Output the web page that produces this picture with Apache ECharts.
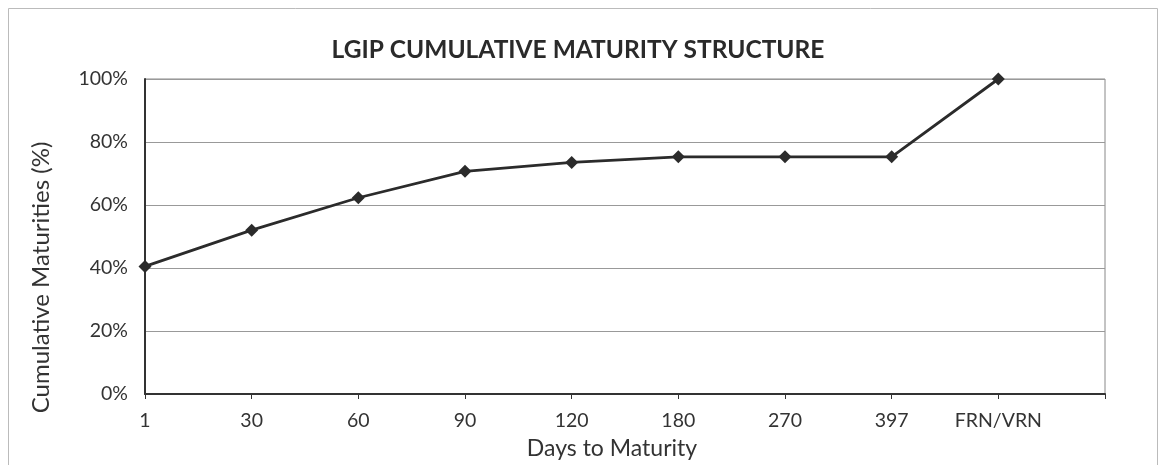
<!DOCTYPE html>
<html><head><meta charset="utf-8">
<script src="https://cdn.jsdelivr.net/npm/echarts@6/dist/echarts.min.js"></script>
<style>html,body{margin:0;padding:0;background:#fff}#c{width:1165px;height:465px}</style>
</head><body><div id="c"></div>
<script>
const categories = ['1','30','60','90','120','180','270','397','FRN/VRN',''];
const cumulative = [40.5, 52.0, 62.3, 70.7, 73.5, 75.3, 75.3, 75.3, 100, null];
const yTicks = [0, 20, 40, 60, 80, 100];

const chart = echarts.init(document.getElementById('c'), null, {renderer:'canvas'});
const font = 'Lato, "Open Sans", sans-serif';
chart.setOption({
  animation:false,
  backgroundColor:'#fff',
  graphic:[{type:'rect', shape:{x:8.5,y:8.5,width:1149,height:470}, style:{fill:'none', stroke:'#bbb', lineWidth:1}, silent:true}],
  title:{text:'LGIP CUMULATIVE MATURITY STRUCTURE', left:573, textAlign:'center', top:33,
    textStyle:{fontFamily:font, fontWeight:'bold', fontSize:24.5, color:'#2a2a2a'}},
  grid:{left:145, right:60, top:79, bottom:71, show:true, borderColor:'#888', borderWidth:1},
  xAxis:{type:'category', data:categories, boundaryGap:false,
    name:'Days to Maturity', nameLocation:'middle', nameGap:43,
    nameTextStyle:{fontFamily:font, fontSize:23, color:'#333', padding:[0,26,0,0]},
    axisLine:{lineStyle:{color:'#333', width:2}},
    axisTick:{show:true, alignWithLabel:true, length:5, inside:false, lineStyle:{color:'#333', width:1}},
    axisLabel:{fontFamily:font, fontSize:19.5, color:'#333', margin:17, interval:0},
    splitLine:{show:false}},
  yAxis:{type:'value', min:0, max:100, interval:20,
    name:'Cumulative Maturities (%)', nameLocation:'middle', nameGap:92,
    nameTextStyle:{fontFamily:font, fontSize:24, color:'#333', padding:[0,82,0,0]},
    axisLine:{show:true, lineStyle:{color:'#333', width:2}},
    axisTick:{show:false},
    axisLabel:{fontFamily:font, fontSize:19.5, color:'#333', margin:17,
      formatter:v=> yTicks.includes(v) ? v+'%' : ''},
    splitLine:{lineStyle:{color:'#999', width:1}}},
  series:[{type:'line', data:cumulative, symbol:'diamond', symbolSize:13,
    lineStyle:{color:'#2b2b2b', width:2.8}, itemStyle:{color:'#2b2b2b'}, z:5}]
});
</script></body></html>
